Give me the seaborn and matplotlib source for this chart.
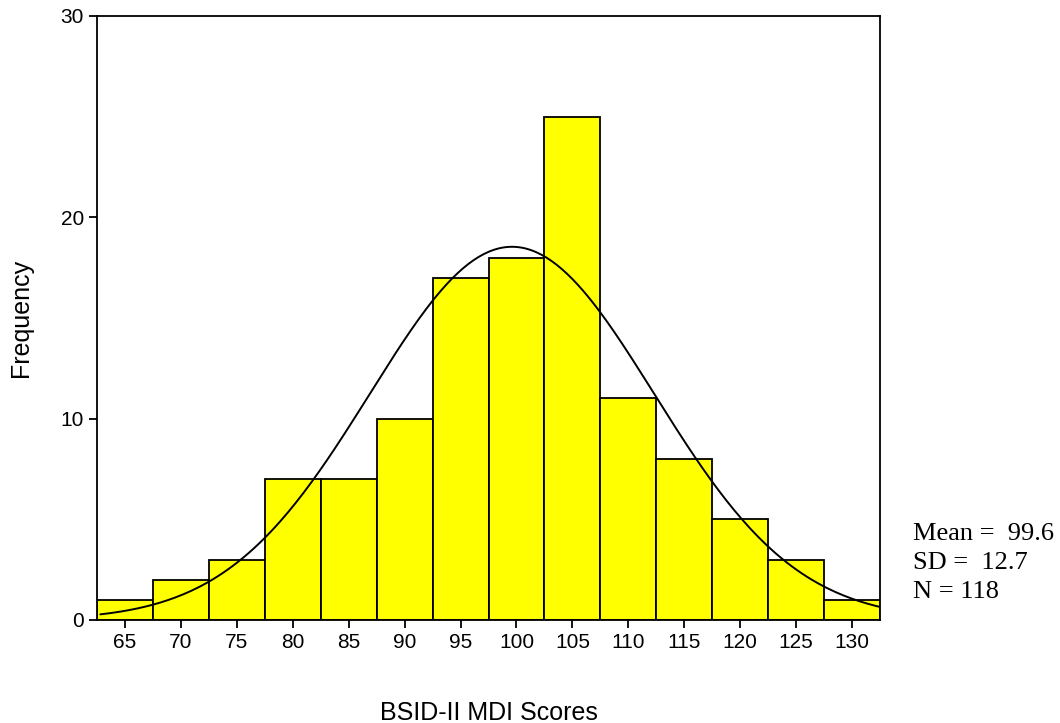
import numpy as np
import pandas as pd
import matplotlib
matplotlib.use("Agg")
import matplotlib.pyplot as plt
import seaborn as sns

# Data
bin_centers = [65, 70, 75, 80, 85, 90, 95, 100, 105, 110, 115, 120, 125, 130]
frequencies = [1, 2, 3, 7, 7, 10, 17, 18, 25, 11, 8, 5, 3, 1]
mean_val = 99.6
sd_val = 12.7
n_val = 118
bin_width = 5
y_ticks = [0, 10, 20, 30]
x_label = "BSID-II MDI Scores"
y_label = "Frequency"

sns.set_theme(style="white")
plt.rcParams['font.family'] = ['Liberation Sans', 'DejaVu Sans']
plt.rcParams['text.color'] = 'black'
plt.rcParams['axes.labelcolor'] = 'black'
plt.rcParams['xtick.color'] = 'black'
plt.rcParams['ytick.color'] = 'black'

fig = plt.figure(figsize=(10.6, 7.23), dpi=100)
ax = fig.add_axes([0.0915, 0.1425, 0.7387, 0.8355])

df = pd.DataFrame({"score": bin_centers, "count": frequencies})
edges = [float(c) - bin_width / 2 for c in bin_centers] + [bin_centers[-1] + bin_width / 2]
sns.histplot(data=df, x="score", weights="count", bins=edges, ax=ax,
             color="#ffff00", edgecolor="black", linewidth=1.3, alpha=1)

xs = np.linspace(edges[0] + 0.3, edges[-1], 300)
ys = n_val * bin_width / (sd_val * np.sqrt(2 * np.pi)) * np.exp(-0.5 * ((xs - mean_val) / sd_val) ** 2)
sns.lineplot(x=xs, y=ys, ax=ax, color="black", linewidth=1.4)

ax.set_xlim(edges[0], edges[-1])
ax.set_ylim(0, 30)
ax.set_xticks(bin_centers)
ax.set_xticklabels([str(c) for c in bin_centers])
ax.set_yticks(y_ticks)
ax.tick_params(axis="both", which="both", direction="out", length=6, width=1.3,
               color="black", labelcolor="black", labelsize=15, bottom=True, left=True)
for s in ax.spines.values():
    s.set_visible(True)
    s.set_color("black")
    s.set_linewidth(1.3)
ax.set_xlabel(x_label, fontsize=18, labelpad=35, color="black")
ax.set_ylabel(y_label, fontsize=18, labelpad=20, color="black")
ax.grid(False)

fig.text(0.861, 0.221, f"Mean =  {mean_val}\nSD =  {sd_val}\nN = {n_val}",
         fontsize=19, family=['Liberation Serif', 'DejaVu Serif'], color="black",
         va="center", ha="left", linespacing=1.42)

fig.savefig("out.png", dpi=100)
